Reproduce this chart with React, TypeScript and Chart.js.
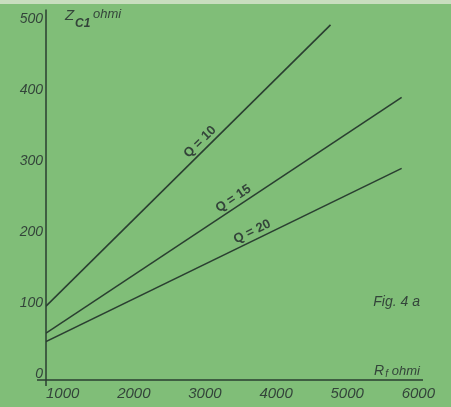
import React, { useEffect, useRef } from "react";
import { Chart, registerables } from "chart.js";

Chart.register(...registerables);

// Axis ticks
const xTicks = [1000, 2000, 3000, 4000, 5000, 6000];
const yTicks = [0, 100, 200, 300, 400, 500];

// Series (R_f in ohm -> Z_C1 in ohm)
const seriesNames = ["Q = 10", "Q = 15", "Q = 20"];
const q10R = [1000, 5000];
const q10Z = [100, 496];
const q15R = [1000, 6000];
const q15Z = [62, 394];
const q20R = [1000, 6000];
const q20Z = [50, 294];

// Where each in-line label sits along its line (R value)
const labelR = [3250, 3700, 3950];

const BG = "rgb(128,190,120)";
const INK = "#2a3f31";
const TEXT = "#33443a";
const FONT = "'Liberation Sans', Arial, sans-serif";

const toPts = (r: number[], z: number[]) => r.map((v, i) => ({ x: v, y: z[i] }));

const annotPlugin = {
  id: "annot",
  beforeDatasetsDraw(chart: any) {
    const { ctx, chartArea } = chart;
    ctx.save();
    ctx.strokeStyle = INK;
    ctx.lineWidth = 1.5;
    ctx.beginPath();
    ctx.moveTo(chartArea.left, chartArea.top - 2);
    ctx.lineTo(chartArea.left, chartArea.bottom + 6);
    ctx.moveTo(chartArea.left - 9, chartArea.bottom);
    ctx.lineTo(chartArea.right, chartArea.bottom);
    ctx.stroke();
    ctx.restore();
  },
  afterDatasetsDraw(chart: any) {
    const { ctx, chartArea } = chart;
    const xs = chart.scales.x;
    const ys = chart.scales.y;
    ctx.save();
    ctx.fillStyle = TEXT;
    chart.data.datasets.forEach((ds: any, i: number) => {
      const d = ds.data;
      const a = d[0];
      const b = d[d.length - 1];
      const r = labelR[i];
      const z = a.y + ((r - a.x) * (b.y - a.y)) / (b.x - a.x);
      const px = xs.getPixelForValue(r);
      const py = ys.getPixelForValue(z);
      const ang = Math.atan2(
        ys.getPixelForValue(b.y) - ys.getPixelForValue(a.y),
        xs.getPixelForValue(b.x) - xs.getPixelForValue(a.x)
      );
      ctx.save();
      ctx.translate(px, py);
      ctx.rotate(ang);
      ctx.font = `bold 13px ${FONT}`;
      ctx.textAlign = "center";
      ctx.textBaseline = "bottom";
      ctx.fillText(seriesNames[i], 0, -2);
      ctx.restore();
    });

    // Y axis title: Z_C1 ohmi
    const tx = chartArea.left + 19;
    ctx.textAlign = "left";
    ctx.textBaseline = "alphabetic";
    ctx.font = `italic 15px ${FONT}`;
    ctx.fillText("Z", tx, 20);
    ctx.font = `bold italic 12px ${FONT}`;
    ctx.fillText("C1", tx + 10, 27);
    ctx.font = `italic 13px ${FONT}`;
    ctx.fillText("ohmi", tx + 28, 18);

    // X axis title: Rf ohmi
    ctx.textAlign = "right";
    ctx.font = `italic 13px ${FONT}`;
    ctx.fillText("ohmi", chartArea.right - 3, 375);
    ctx.font = `italic 10px ${FONT}`;
    ctx.fillText("f", chartArea.right - 35, 377);
    ctx.font = `italic 14px ${FONT}`;
    ctx.fillText("R", chartArea.right - 39, 375);

    // Figure label
    ctx.font = `italic 14px ${FONT}`;
    ctx.fillText("Fig. 4 a", chartArea.right - 3, 306);
    ctx.restore();
  },
};

export default function App() {
  const ref = useRef<HTMLCanvasElement | null>(null);

  useEffect(() => {
    document.body.style.margin = "0";
    const canvas = ref.current;
    if (!canvas) return;
    const lineStyle = {
      borderColor: INK,
      borderWidth: 1.6,
      pointRadius: 0,
      fill: false,
      tension: 0,
    };
    const chart = new Chart(canvas, {
      type: "line",
      data: {
        datasets: [
          { label: seriesNames[0], data: toPts(q10R, q10Z), ...lineStyle },
          { label: seriesNames[1], data: toPts(q15R, q15Z), ...lineStyle },
          { label: seriesNames[2], data: toPts(q20R, q20Z), ...lineStyle },
        ],
      },
      options: {
        responsive: false,
        maintainAspectRatio: false,
        animation: false,
        layout: { padding: { left: 0, right: 28, top: 6, bottom: 0 } },
        plugins: {
          legend: { display: false },
          tooltip: { enabled: false },
        },
        scales: {
          x: {
            type: "linear",
            min: 1000,
            max: 6300,
            afterBuildTicks: (s: any) => {
              s.ticks = xTicks.map((v) => ({ value: v }));
            },
            afterFit: (s: any) => {
              s.height = 27;
            },
            grid: { display: false, drawTicks: false },
            border: { display: false },
            ticks: {
              align: "start",
              padding: 5,
              color: TEXT,
              maxRotation: 0,
              autoSkip: false,
              callback: (v: any) => String(v),
              font: { family: FONT, size: 15, style: "italic" },
            },
          },
          y: {
            type: "linear",
            min: -4,
            max: 515,
            afterBuildTicks: (s: any) => {
              s.ticks = yTicks.map((v) => ({ value: v }));
            },
            afterFit: (s: any) => {
              s.width = 46;
            },
            grid: { display: false, drawTicks: false },
            border: { display: false },
            ticks: {
              padding: 3,
              labelOffset: -3,
              color: TEXT,
              autoSkip: false,
              callback: (v: any) => String(v),
              font: { family: FONT, size: 14, style: "italic" },
            },
          },
        },
      },
      plugins: [annotPlugin],
    } as any);
    return () => chart.destroy();
  }, []);

  return (
    <div style={{ width: 451, height: 407, background: BG, position: "relative" }}>
      <div
        style={{
          position: "absolute",
          left: 0,
          top: 0,
          width: 451,
          height: 4,
          background: "rgb(200,222,190)",
        }}
      />
      <canvas
        ref={ref}
        width={451}
        height={407}
        style={{ display: "block", position: "relative", width: 451, height: 407 }}
      />
    </div>
  );
}
